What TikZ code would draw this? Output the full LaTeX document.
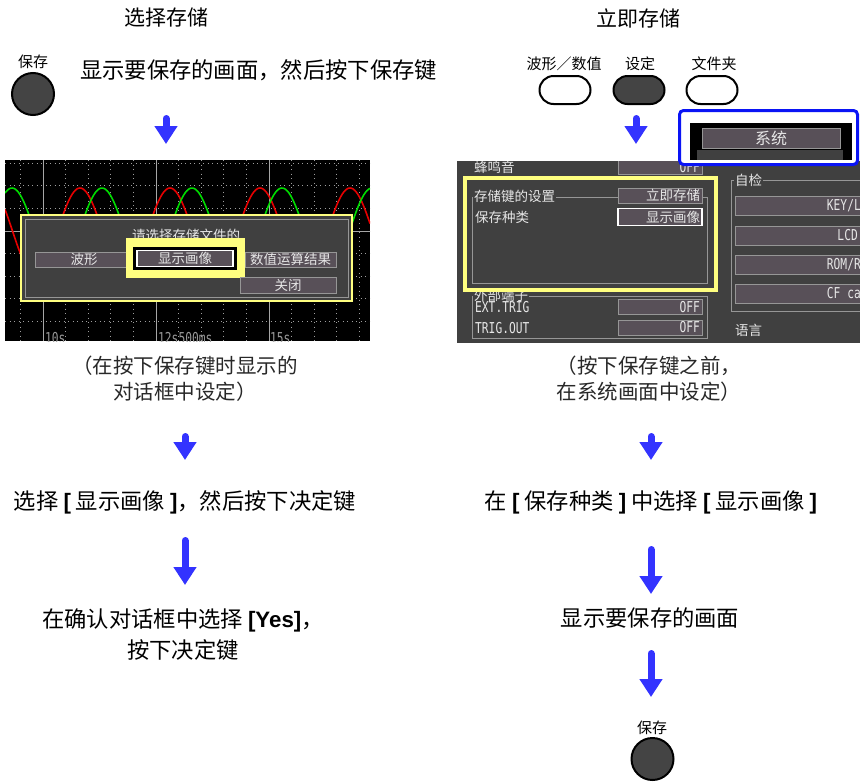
\documentclass[tikz,border=0pt]{standalone}
\usepackage{fontspec}
\setmainfont{Noto Sans CJK SC}
\newfontfamily\latfont{Liberation Sans}
\newfontfamily\scrfont{DejaVu Sans Mono}[FakeStretch=0.75]
\usetikzlibrary{arrows.meta,positioning}
\definecolor{flowblue}{RGB}{51,51,255}
\definecolor{keyfill}{RGB}{68,68,68}
\definecolor{hiyellow}{RGB}{255,255,128}
\definecolor{sysblue}{RGB}{10,20,245}
\definecolor{scrgray}{RGB}{64,64,64}
\definecolor{btnfill}{RGB}{88,80,88}
\definecolor{boxedge}{RGB}{150,150,150}
\definecolor{scrwhite}{RGB}{230,230,230}
\definecolor{capgray}{RGB}{40,40,40}
\definecolor{wavered}{RGB}{230,0,0}
\definecolor{wavegreen}{RGB}{0,220,0}
\newcommand{\lb}[1]{{\latfont\bfseries #1}}
\newcommand{\scrl}{\scrfont\fontsize{15}{15}\selectfont}

\begin{document}
\begin{tikzpicture}[x=1pt,y=-1pt,
  flow/.style={draw=flowblue,line width=7pt,line cap=round,-{Triangle[width=22pt,length=18pt]}},
  savekey/.style={circle,draw=black,line width=2pt,fill=keyfill,minimum size=42pt,inner sep=0pt},
  keylabel/.style={font=\fontsize{15}{16}\selectfont,inner sep=0pt},
  softkey/.style={rectangle,rounded corners=14pt,draw=black,line width=2pt,minimum width=51pt,minimum height=28pt},
  title/.style={font=\fontsize{21}{24}\selectfont},
  steptext/.style={font=\fontsize{22.3}{31}\selectfont,align=center,inner sep=0pt},
  captext/.style={font=\fontsize{20.5}{26}\selectfont,align=center,text=capgray,inner sep=0pt},
  scrtext/.style={font=\fontsize{13.5}{14}\selectfont,text=scrwhite,inner sep=0pt},
  scrlat/.style={font=\scrl,text=scrwhite,inner sep=0pt},
  scrbtn/.style={draw=boxedge,fill=btnfill,scrtext,inner sep=0pt},
  scrbox/.style={draw=boxedge,fill=btnfill,font=\fontsize{13.5}{14}\selectfont,text width=80pt,align=right,inner xsep=2pt,inner ysep=0pt,minimum height=15pt,text=scrwhite},
  selfbtn/.style={draw=boxedge,fill=btnfill,minimum width=160pt,minimum height=19pt,anchor=west,inner sep=0pt},
  gridminor/.style={gray!75,line width=0.8pt,dash pattern=on 1pt off 3.5pt},
  gridmajor/.style={gray!70,line width=1pt},
  frameline/.style={boxedge,line width=0.8pt}]
\useasboundingbox (0,0) rectangle (860,782);

% titles
\node[title] (titleSel) at (166,18) {选择存储};
\node[title] (titleNow) at (638,18) {立即存储};

% left: select save
\node[keylabel] (keySaveLlab) at (33,62) {保存};
\node[savekey] (keySaveL) at (33,94) {};
\node[steptext,anchor=west] (stepL1) at (80,70) {显示要保存的画面，然后按下保存键};

\begin{scope}
  \clip (5,160) rectangle (370,341);
  \fill[black] (5,160) rectangle (370,341);
  \foreach \k in {-1,...,14}{\draw[gridminor] ({43+(\k)*22.6},160) -- ({43+(\k)*22.6},341);}
  \foreach \k in {-3,...,4}{\draw[gridminor] (5,{231+(\k)*22.6}) -- (370,{231+(\k)*22.6});}
  \foreach \gx in {43,156,269}{\draw[gridmajor] (\gx,160) -- (\gx,341);}
  \draw[gridmajor] (5,231) -- (370,231);
  \draw[wavered,line width=1.6pt] plot[domain=5:370,samples=240] (\x,{231-43*cos(4*(\x-80))});
  \draw[wavegreen,line width=1.6pt] plot[domain=5:370,samples=240] (\x,{231-43*cos(4*(\x-102))});
  \node[scrlat,text=gray!80,anchor=north west] (tickA) at (45,332) {10s};
  \node[scrlat,text=gray!80,anchor=north west] (tickB) at (158,332) {12s500ms};
  \node[scrlat,text=gray!80,anchor=north west] (tickC) at (270,332) {15s};
\end{scope}
% dialog
\filldraw[fill=scrgray,draw=hiyellow,line width=2.5pt] (21,215) rectangle (352,301);
\draw[frameline] (25,219) rectangle (348,297);
\node[scrtext] (dlgTitle) at (186,235) {请选择存储文件的};
\node[scrbtn,minimum width=98pt,minimum height=15pt] (btnWave) at (84,259.5) {波形};
\fill[hiyellow] (126,238) rectangle (245,278);
\fill[black] (133,247) rectangle (237,270);
\node[scrbtn,draw=white,line width=1.3pt,minimum width=96pt,minimum height=16pt] (btnImg) at (185,258.5) {显示画像};
\node[scrbtn,minimum width=91pt,minimum height=15pt] (btnCalc) at (290.5,259.5) {数值运算结果};
\node[scrbtn,minimum width=96pt,minimum height=16pt] (btnClose) at (288,285) {关闭};

\node[captext] (capL) at (185,379) {（在按下保存键时显示的\\对话框中设定）};
\node[steptext] (stepL2) at (185,502) {选择 \lb{[} 显示画像 \lb{]}，然后按下决定键};
\node[steptext] (stepL3) at (183,634.5) {在确认对话框中选择 \lb{[Yes]}，\\按下决定键};

% right: save now
\node[keylabel] (labWave) at (564,64) {波形／数值};
\node[keylabel] (labSet) at (640,64) {设定};
\node[keylabel] (labFolder) at (714,64) {文件夹};
\node[softkey,fill=white] (keyWave) at (565,90) {};
\node[softkey,fill=keyfill] (keySet) at (639,90) {};
\node[softkey,fill=white] (keyFolder) at (712,90) {};

\begin{scope}
  \clip (457,161) rectangle (860,343);
  \fill[scrgray] (457,161) rectangle (860,343);
  \node[scrtext,anchor=west] (lbBeep) at (474,167) {蜂鸣音};
  \node[scrbox] (boxBeep) at (660,167) {\scrl OFF};
  % save key group
  \draw[frameline] (472,197) rectangle (707,283);
  \node[scrtext,anchor=west,fill=scrgray,inner xsep=1pt] (lbSaveKey) at (473,196) {存储键的设置};
  \node[scrbox] (boxSaveKey) at (660,195.5) {立即存储};
  \node[scrtext,anchor=west] (lbSaveType) at (475,217) {保存种类};
  \node[scrbox,draw=white,line width=1.3pt,minimum height=17pt] (boxSaveType) at (660,217) {显示画像};
  % external group
  \draw[frameline] (472,296) rectangle (707,338);
  \node[scrtext,anchor=west,fill=scrgray,inner xsep=1pt] (lbExt) at (473,295) {外部端子};
  \node[scrlat,anchor=west] (lbExtTrig) at (475,307) {EXT.TRIG};
  \node[scrbox] (boxExtTrig) at (660,307) {\scrl OFF};
  \node[scrlat,anchor=west] (lbTrigOut) at (475,328) {TRIG.OUT};
  \node[scrbox] (boxTrigOut) at (660,327.5) {\scrl OFF};
  % self check group
  \draw[frameline] (731,180) rectangle (900,311);
  \node[scrtext,anchor=west,fill=scrgray,inner xsep=1pt] (lbCheck) at (734,180) {自检};
  \node[selfbtn] (btnKey) at (735,206) {};
  \node[scrlat,anchor=east] (txtKey) at (861,206) {KEY/L};
  \node[selfbtn] (btnLcd) at (735,235.5) {};
  \node[scrlat,anchor=east] (txtLcd) at (858,235.5) {LCD};
  \node[selfbtn] (btnRom) at (735,264.5) {};
  \node[scrlat,anchor=east] (txtRom) at (861,264.5) {ROM/R};
  \node[selfbtn] (btnCf) at (735,293.5) {};
  \node[scrlat,anchor=east] (txtCf) at (861,293.5) {CF ca};
  \node[scrtext,anchor=west] (lbLang) at (735,330) {语言};
  \draw[hiyellow,line width=4pt] (465,178) rectangle (716,290);
\end{scope}
% system tab
\draw[sysblue,line width=3pt,rounded corners=4pt,fill=white] (679.5,110.5) rectangle (857.5,164.5);
\fill[black] (690,123) rectangle (852,160);
\fill[scrgray] (697,150) rectangle (843,160);
\node[scrbtn,font=\fontsize{16}{17}\selectfont,minimum width=138pt,minimum height=20pt] (btnSys) at (771,138) {系统};

\node[captext] (capR) at (649,379) {（按下保存键之前，\\在系统画面中设定）};
\node[steptext] (stepR2) at (651,502) {在 \lb{[} 保存种类 \lb{]} 中选择 \lb{[} 显示画像 \lb{]}};
\node[steptext] (stepR3) at (650,618) {显示要保存的画面};
\node[keylabel] (keySaveRlab) at (652,728) {保存};
\node[savekey] (keySaveR) at (652.5,759) {};

% flow arrows
\foreach \n/\ax/\yt/\yb in {L1/166/115/144,L2/185/433/460,L3/185/537/585,R1/636/115/144,R2/651/433/460,R3/651/546/594,R4/651/650/697}{
  \coordinate (\n-top) at (\ax,\yt+3.5);
  \coordinate (\n-tip) at (\ax,\yb);
  \draw[flow] (\n-top) -- (\n-tip);
}
\end{tikzpicture}
\end{document}
